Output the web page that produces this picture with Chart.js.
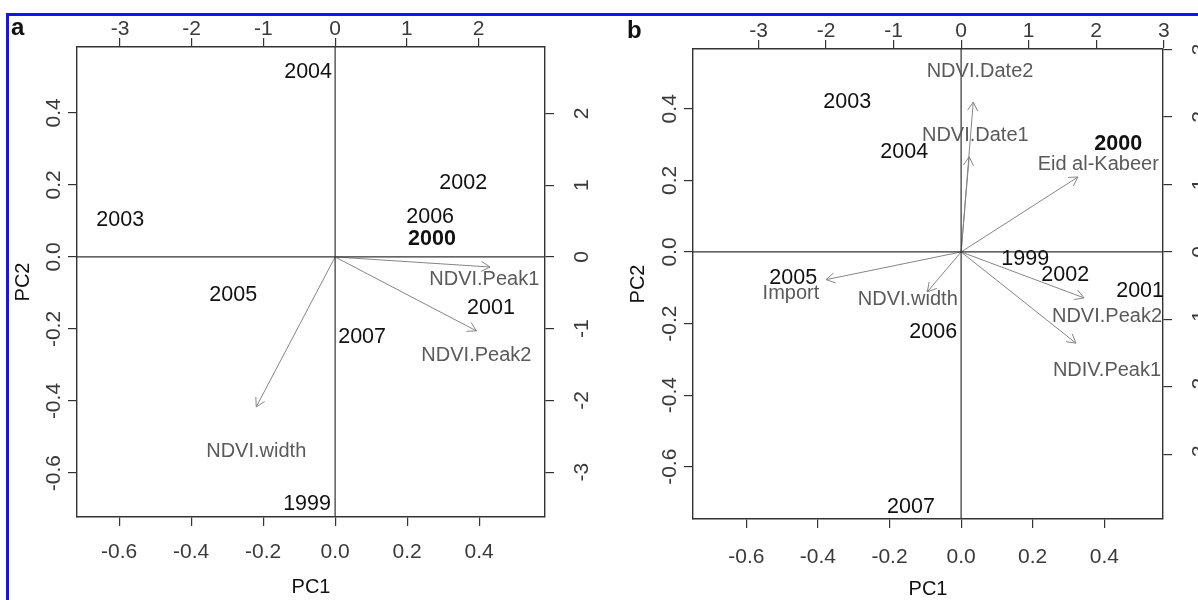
<!DOCTYPE html>
<html>
<head>
<meta charset="utf-8">
<script src="https://cdn.jsdelivr.net/npm/chart.js@4.4.0/dist/chart.umd.min.js"></script>
<style>
  body { margin: 0; background: #fff; }
  #page { position: relative; width: 1198px; height: 600px; overflow: hidden; background: #fff; }
  #frame { position: absolute; left: 6px; top: 13px; width: 1300px; height: 700px;
           border-top: 3px solid #1414f0; border-left: 3px solid #1414f0; }
  .tag { position: absolute; font: bold 24px "Liberation Sans", Arial, sans-serif; line-height: 24px; color: #111; }
  canvas { position: absolute; top: 0; }
</style>
</head>
<body>
<div id="page">
  <div id="frame"></div>
  <canvas id="chartA" width="600" height="600" style="left:0"></canvas>
  <canvas id="chartB" width="598" height="600" style="left:600px"></canvas>
  <div class="tag" style="left:11px;top:15px">a</div>
  <div class="tag" style="left:627px;top:18px">b</div>
</div>
<script>
// ---- panel a : scores (PC1/PC2, bottom/left axes)
const yearsA = ["2004", "2002", "2003", "2006", "2000", "2005", "2001", "2007", "1999"];
const pc1A = [-0.075, 0.356, -0.597, 0.264, 0.269, -0.283, 0.433, 0.075, -0.078];
const pc2A = [0.514, 0.206, 0.103, 0.111, 0.050, -0.106, -0.142, -0.222, -0.686];
// ---- panel a : loadings (top/right axes)
const varsA = ["NDVI.Peak1", "NDVI.Peak2", "NDVI.width"];
const tipXA = [2.16, 1.97, -1.10];
const tipYA = [-0.14, -1.03, -2.09];
const labXA = [2.08, 1.97, -1.10];
const labYA = [-0.32, -1.37, -2.71];

// ---- panel b : scores
const yearsB = ["2003", "2004", "2000", "1999", "2002", "2001", "2005", "2006", "2007"];
const pc1B = [-0.318, -0.159, 0.439, 0.179, 0.291, 0.500, -0.469, -0.078, -0.140];
const pc2B = [0.419, 0.279, 0.302, -0.020, -0.064, -0.109, -0.073, -0.223, -0.712];
// ---- panel b : loadings
const varsB = ["NDVI.Date2", "NDVI.Date1", "Eid al-Kabeer", "Import", "NDVI.width", "NDVI.Peak2", "NDIV.Peak1"];
const tipXB = [0.18, 0.12, 1.73, -2.00, -0.50, 1.82, 1.70];
const tipYB = [2.22, 1.41, 1.11, -0.41, -0.59, -0.68, -1.35];
const labXB = [0.28, 0.21, 2.03, -2.52, -0.79, 2.16, 2.16];
const labYB = [2.67, 1.73, 1.30, -0.61, -0.71, -0.96, -1.75];

const boldYears = ["2000"];

// tick labels
const pcTicks = [-0.6, -0.4, -0.2, 0.0, 0.2, 0.4];
const topTicksA = [-3, -2, -1, 0, 1, 2];
const rightTicksA = [-3, -2, -1, 0, 1, 2];
const topTicksB = [-3, -2, -1, 0, 1, 2, 3];
const rightTicksB = [-3, -2, -1, 0, 1, 2, 3];

const FONT = '"Liberation Sans", Arial, Helvetica, sans-serif';
const LINE = '#333';
const TXT = '#3a3a3a';

// text drawn at data points
const textLabels = {
  id: 'textLabels',
  afterDatasetsDraw(chart) {
    const ctx = chart.ctx;
    chart.data.datasets.forEach((ds, i) => {
      if (!ds.textLabels) return;
      const meta = chart.getDatasetMeta(i);
      ctx.save();
      ctx.textAlign = 'center';
      ctx.textBaseline = 'middle';
      ctx.fillStyle = ds.textColor;
      meta.data.forEach((pt, j) => {
        const txt = ds.textLabels[j];
        ctx.font = (boldYears.includes(txt) ? 'bold ' : '') + ds.textSize + 'px ' + FONT;
        ctx.fillText(txt, pt.x, pt.y);
      });
      ctx.restore();
    });
  }
};

// arrow heads at the end of loading segments
const arrowHeads = {
  id: 'arrowHeads',
  afterDatasetsDraw(chart) {
    const ctx = chart.ctx;
    chart.data.datasets.forEach((ds, i) => {
      if (!ds.arrow) return;
      const pts = chart.getDatasetMeta(i).data;
      const a = pts[0], b = pts[pts.length - 1];
      const ang = Math.atan2(b.y - a.y, b.x - a.x);
      const len = 10;
      ctx.save();
      ctx.strokeStyle = ds.borderColor;
      ctx.lineWidth = 1;
      ctx.beginPath();
      [-1, 1].forEach(s => {
        ctx.moveTo(b.x, b.y);
        ctx.lineTo(b.x - len * Math.cos(ang + s * Math.PI / 6), b.y - len * Math.sin(ang + s * Math.PI / 6));
      });
      ctx.stroke();
      ctx.restore();
    });
  }
};

function axis(pos, min, max, ticks, fmt, size, pad, extra) {
  const vertical = pos === 'left' || pos === 'right';
  return Object.assign({
    type: 'linear',
    position: pos,
    min: min,
    max: max,
    afterBuildTicks: s => { s.ticks = ticks.map(v => ({ value: v })); },
    afterFit: s => { if (vertical) s.width = size; else s.height = size; },
    grid: { drawOnChartArea: false, drawTicks: true, tickLength: 9, tickColor: LINE, color: LINE, lineWidth: 1.2 },
    border: { display: true, color: LINE, width: 1.4 },
    ticks: {
      autoSkip: false,
      color: TXT,
      font: { family: FONT, size: 21, lineHeight: 1 },
      padding: pad,
      minRotation: vertical ? 90 : 0,
      maxRotation: vertical ? 90 : 0,
      crossAlign: 'center',
      callback: fmt
    }
  }, extra || {});
}

function panel(id, g, d) {
  const datasets = [];
  // zero lines
  datasets.push({ data: [{ x: g.xMin, y: 0 }, { x: g.xMax, y: 0 }], showLine: true, borderColor: LINE, borderWidth: 1.2, pointRadius: 0, xAxisID: 'x', yAxisID: 'y' });
  datasets.push({ data: [{ x: 0, y: g.yMin }, { x: 0, y: g.yMax }], showLine: true, borderColor: LINE, borderWidth: 1.2, pointRadius: 0, xAxisID: 'x', yAxisID: 'y' });
  // loading arrows
  d.vars.forEach((v, i) => {
    datasets.push({ arrow: true, data: [{ x: 0, y: 0 }, { x: d.tipX[i], y: d.tipY[i] }], showLine: true, borderColor: '#858585', borderWidth: 1, pointRadius: 0, xAxisID: 'x2', yAxisID: 'y2' });
  });
  // loading labels
  datasets.push({ textLabels: d.vars, textColor: '#5a5a5a', textSize: 20, data: d.vars.map((v, i) => ({ x: d.labX[i], y: d.labY[i] })), pointRadius: 0, xAxisID: 'x2', yAxisID: 'y2' });
  // year labels
  datasets.push({ textLabels: d.years, textColor: '#111', textSize: 21.5, data: d.years.map((v, i) => ({ x: d.pc1[i], y: d.pc2[i] })), pointRadius: 0, xAxisID: 'x', yAxisID: 'y' });

  const f1 = v => v.toFixed(1);
  const f0 = v => String(v);
  return new Chart(document.getElementById(id), {
    type: 'scatter',
    data: { datasets: datasets },
    options: {
      responsive: false,
      animation: false,
      devicePixelRatio: 1,
      events: [],
      layout: { padding: 0 },
      plugins: { legend: { display: false }, tooltip: { enabled: false } },
      scales: {
        x: axis('bottom', g.xMin, g.xMax, pcTicks, f1, g.bottomH, g.bottomPad,
          { title: { display: true, text: 'PC1', color: '#111', font: { family: FONT, size: 20, lineHeight: 1 }, padding: { top: 0, bottom: g.pc1Pad } } }),
        y: axis('left', g.yMin, g.yMax, pcTicks, f1, g.leftW, -4,
          { title: { display: true, text: 'PC2', color: '#111', font: { family: FONT, size: 20, lineHeight: 1 }, padding: { top: g.pc2Pad, bottom: 0 } } }),
        x2: axis('top', g.xMin * g.k, g.xMax * g.k, d.topTicks, f0, g.topH, 9),
        y2: axis('right', g.yMin * g.k, g.yMax * g.k, d.rightTicks, f0, g.rightW, 19)
      }
    },
    plugins: [textLabels, arrowHeads]
  });
}

panel('chartA',
  { xMin: -0.717, xMax: 0.583, yMin: -0.722, yMax: 0.583, k: 5.02, leftW: 77, rightW: 55, topH: 47, bottomH: 83, bottomPad: 26, pc1Pad: 3, pc2Pad: 13 },
  { years: yearsA, pc1: pc1A, pc2: pc2A, vars: varsA, tipX: tipXA, tipY: tipYA, labX: labXA, labY: labYA, topTicks: topTicksA, rightTicks: rightTicksA });

panel('chartB',
  { xMin: -0.749, xMax: 0.564, yMin: -0.746, yMax: 0.567, k: 5.30, leftW: 93, rightW: 35, topH: 49, bottomH: 81, bottomPad: 29, pc1Pad: 1, pc2Pad: 28 },
  { years: yearsB, pc1: pc1B, pc2: pc2B, vars: varsB, tipX: tipXB, tipY: tipYB, labX: labXB, labY: labYB, topTicks: topTicksB, rightTicks: rightTicksB });
</script>
</body>
</html>
